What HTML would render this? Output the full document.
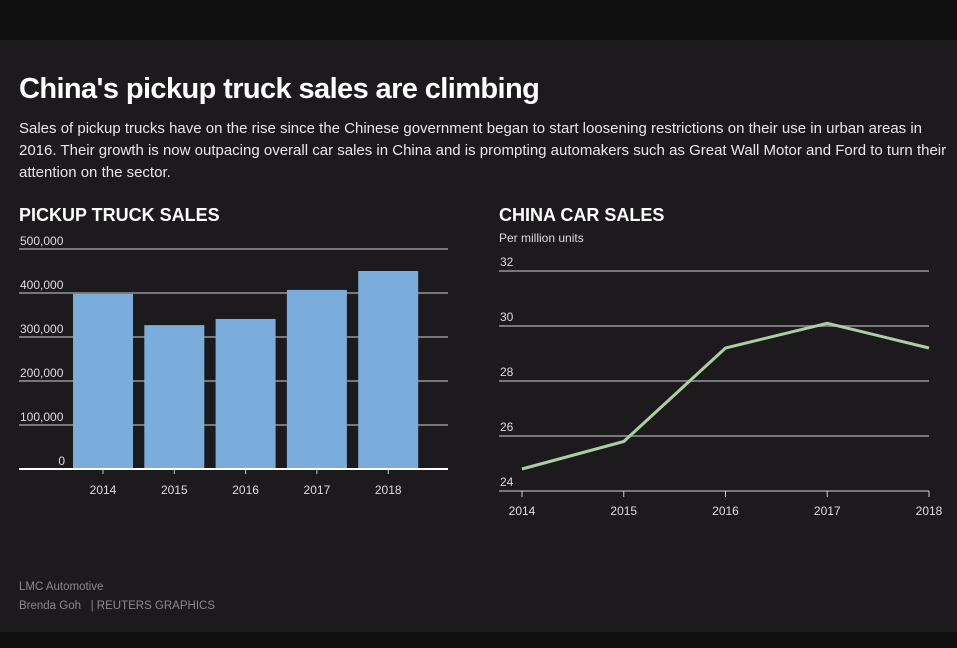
<!DOCTYPE html>
<html><head><meta charset="utf-8"><style>
html,body{margin:0;padding:0;}
body{width:957px;height:648px;background:#1c1a1d;font-family:"Liberation Sans",sans-serif;position:relative;overflow:hidden;color:#fff;}
.topbar{position:absolute;left:0;top:0;width:957px;height:40px;background:#0f0f10;}
.botbar{position:absolute;left:0;top:632px;width:957px;height:16px;background:#0f0f10;}
h1{position:absolute;left:19px;top:73px;margin:0;font-size:29px;font-weight:bold;letter-spacing:-0.6px;}
.desc{position:absolute;left:19px;top:118px;width:935px;font-size:15px;line-height:22px;color:#e8e8e8;}
.foot{position:absolute;left:19px;font-size:11.5px;color:#8a8a8a;}
svg{position:absolute;left:0;top:0;}
svg text{font-family:"Liberation Sans",sans-serif;}
</style></head><body>
<div class="topbar"></div>
<h1>China's pickup truck sales are climbing</h1>
<div class="desc">Sales of pickup trucks have on the rise since the Chinese government began to start loosening restrictions on their use in urban areas in 2016. Their growth is now outpacing overall car sales in China and is prompting automakers such as Great Wall Motor and Ford to turn their attention on the sector.</div>
<svg width="957" height="648" id="chart">
<text x="19" y="221" font-size="18" font-weight="bold" fill="#fff">PICKUP TRUCK SALES</text>
<text x="499" y="221" font-size="18" font-weight="bold" fill="#fff">CHINA CAR SALES</text>
<text x="499" y="242" font-size="12" fill="#ddd">Per million units</text>
<g id="bars"></g><g id="line"></g>
</svg>
<div class="foot" style="top:581px">LMC Automotive</div>
<div class="foot" style="top:600px">Brenda Goh &nbsp;&nbsp;| REUTERS GRAPHICS</div>
<div class="botbar"></div>
<script>
const years = ["2014","2015","2016","2017","2018"];
const pickupSales = [398000, 327000, 341000, 407000, 450000];
const pickupTicks = [0,100000,200000,300000,400000,500000];
const carSales = [24.8, 25.8, 29.2, 30.1, 29.2];
const carTicks = [24,26,28,30,32];
const NS="http://www.w3.org/2000/svg";
function mk(t,a,p){const e=document.createElementNS(NS,t);for(const k in a)e.setAttribute(k,a[k]);p.appendChild(e);return e;}
const bg=document.getElementById('bars');
const by=v=>469-v*220/500000;
const bx=i=>103+i*71.3;
pickupTicks.forEach(t=>{
  if(t>0){const l=mk('line',{x1:19,x2:448,y1:by(t),y2:by(t),stroke:'#777','stroke-width':2},bg);
  }
  const tx=mk('text',{x:t==0?65:20,y:by(t)-4,'font-size':12,fill:'#ddd','text-anchor':t==0?'end':'start'},bg);
  tx.textContent=t.toLocaleString('en-US');
  
});
pickupSales.forEach((v,i)=>{
  const r=mk('rect',{x:bx(i)-30,y:by(v),width:60,height:469-by(v),fill:'#7aaddc'},bg);
  
  const tk=mk('line',{x1:bx(i),x2:bx(i),y1:469,y2:474,stroke:'#ccc'},bg);
  
  const tx=mk('text',{x:bx(i),y:494,'font-size':12,fill:'#ddd','text-anchor':'middle'},bg);
  tx.textContent=years[i];
  
});
const ax=mk('line',{x1:19,x2:448,y1:469,y2:469,stroke:'#fff','stroke-width':2},bg);

const lg=document.getElementById('line');
const ly=v=>491-(v-24)*27.5;
const lx=i=>522+i*101.75;
carTicks.forEach(t=>{
  const l=mk('line',{x1:499,x2:929,y1:ly(t),y2:ly(t),stroke:'#777','stroke-width':2},lg);
  
  const tx=mk('text',{x:500,y:ly(t)-5,'font-size':12,fill:'#ddd'},lg);
  tx.textContent=t;
  
});
years.forEach((y,i)=>{
  const tk=mk('line',{x1:lx(i),x2:lx(i),y1:491,y2:497,stroke:'#ccc'},lg);
  
  const tx=mk('text',{x:lx(i),y:515,'font-size':12,fill:'#ddd','text-anchor':'middle'},lg);
  tx.textContent=y;
  
});
const p=mk('polyline',{points:carSales.map((v,i)=>lx(i)+','+ly(v)).join(' '),fill:'none',stroke:'#a8d0a0','stroke-width':3},lg);

</script>
</body></html>
